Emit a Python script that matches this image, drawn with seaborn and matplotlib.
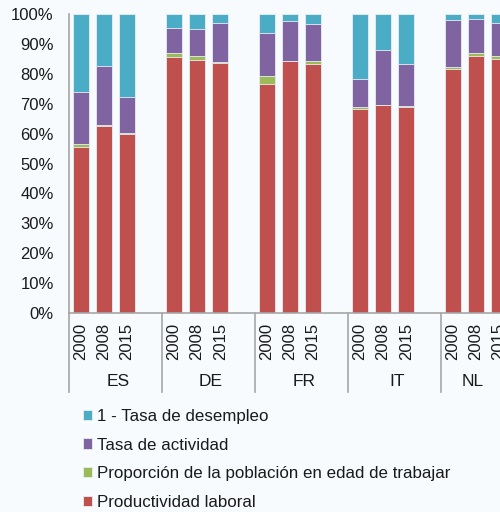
import pandas as pd
import matplotlib
matplotlib.use("Agg")
import matplotlib.pyplot as plt
import seaborn as sns

countries = ["ES", "DE", "FR", "IT", "NL"]
years = ["2000", "2008", "2015"]

# shares in % per country, per year
productividad = [55.6, 62.5, 59.8, 85.7, 84.6, 83.5, 76.7, 84.2, 83.2, 68.2, 69.5, 69.0, 81.7, 86.1, 84.9]
poblacion = [0.9, 0.4, 0.4, 1.4, 1.5, 0.6, 2.7, 0.2, 1.1, 0.6, 0.1, 0.3, 0.6, 0.9, 0.9]
actividad = [17.3, 19.7, 11.9, 8.1, 8.9, 12.8, 14.1, 13.3, 12.3, 9.5, 18.3, 14.0, 15.6, 11.2, 11.1]
desempleo = [26.2, 17.4, 27.9, 4.8, 5.0, 3.1, 6.5, 2.3, 3.4, 21.7, 12.1, 16.7, 2.1, 1.8, 3.1]

series = [
    ("Productividad laboral", productividad, "#C0504D"),
    ("Proporción de la población en edad de trabajar", poblacion, "#9BBB59"),
    ("Tasa de actividad", actividad, "#8064A2"),
    ("1 - Tasa de desempleo", desempleo, "#4BACC6"),
]

bg = "#F7FBFE"
txt = "#1A1A1A"
grey = "#A6A6A6"

plt.rcParams["font.family"] = ["Liberation Sans", "DejaVu Sans"]

# slot order with an empty slot after every country
order = []
for c in countries:
    order += [f"{c} {y}" for y in years] + [f"{c} gap"]

df = pd.DataFrame({"slot": [f"{c} {y}" for c in countries for y in years]})
cum = [0.0] * len(df)
for name, vals, col in series:
    cum = [a + b for a, b in zip(cum, vals)]
    df[name] = cum

fig = plt.figure(figsize=(5, 5.12), dpi=100, facecolor=bg)
ax = fig.add_axes([69 / 500, 199 / 512, 465 / 500, 299 / 512])
ax.set_facecolor(bg)

# draw tallest cumulative first so the lower segments sit on top
for name, vals, col in reversed(series):
    sns.barplot(data=df, x="slot", y=name, order=order, color=col, width=0.69,
                saturation=1, edgecolor="#E8EEF2", linewidth=0.6, ax=ax, label=name)

ax.set_xlim(-0.5, len(order) - 0.5)
ax.set_ylim(0, 100)
ax.set_yticks(range(0, 101, 10))
ax.set_yticklabels([f"{v}%" for v in range(0, 101, 10)])
ax.tick_params(axis="y", length=0, pad=11, labelsize=12, labelcolor=txt)
ax.set_xlabel("")
ax.set_ylabel("")
ax.set_xticks([])
for s in ["top", "right"]:
    ax.spines[s].set_visible(False)
for s in ["left", "bottom"]:
    ax.spines[s].set_color(grey)
    ax.spines[s].set_linewidth(1.2)

# right edge of the figure in data units (last group is cut off)
vis_right = -0.5 + len(order) * (500 - 69) / 465

tr = ax.get_xaxis_transform()
for i, c in enumerate(countries):
    base = i * 4
    for j, y in enumerate(years):
        ax.text(base + j, -0.032, y, rotation=90, ha="center", va="top",
                fontsize=12, color=txt, transform=tr)
    lo, hi = base - 0.5, min(base + 3.5, vis_right)
    ax.text((lo + hi) / 2 + 0.1, -0.23, c, ha="center", va="center", fontsize=12.5,
            color=txt, transform=tr)
for k in range(len(countries) + 1):
    ax.plot([k * 4 - 0.5] * 2, [0, -0.265], color=grey, lw=1.2,
            transform=tr, clip_on=False)

handles, labels = ax.get_legend_handles_labels()
if ax.legend_:
    ax.legend_.remove()
fig.legend(handles, labels, loc="upper left", bbox_to_anchor=(83 / 500, 1 - 409 / 512),
           frameon=False, fontsize=12.2, handlelength=0.55, handleheight=0.55,
           handletextpad=0.3, labelspacing=0.8, borderpad=0, borderaxespad=0,
           labelcolor=txt)

fig.savefig("out.png", dpi=100, facecolor=bg)
